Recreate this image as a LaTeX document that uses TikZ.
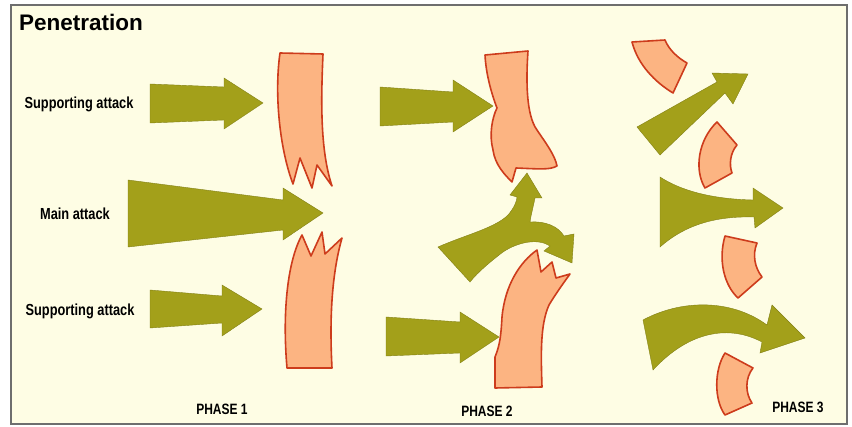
\documentclass[tikz,border=0pt]{standalone}
\usepackage{fontspec}
\setmainfont{Liberation Sans}
\newfontfamily\condfont[FakeStretch=0.8]{Liberation Sans}
\definecolor{cream}{RGB}{254,253,228}
\definecolor{olive}{RGB}{163,160,26}
\definecolor{salmon}{RGB}{252,180,130}
\definecolor{redline}{RGB}{205,60,28}
\definecolor{framegray}{RGB}{110,110,110}
\tikzset{
  attack/.style={fill=olive, draw=olive!80!black, line width=0.4pt},
  enemy/.style={fill=salmon, draw=redline, line width=1.6pt, line join=round},
  label/.style={font=\condfont\bfseries\fontsize{16}{18}\selectfont, inner sep=0pt},
  phase/.style={font=\condfont\bfseries\fontsize{15}{17}\selectfont, inner sep=0pt},
}
\begin{document}
\begin{tikzpicture}[x=1pt,y=-1pt]
\useasboundingbox (0,0) rectangle (852,427);
\fill[white] (0,0) rectangle (852,427);
\fill[cream] (11,5) rectangle (847,424);
\draw[framegray, line width=1.2pt] (11,5) rectangle (847,424);

% texts
\node[anchor=west, inner sep=0pt, font=\bfseries\fontsize{22.5}{24}\selectfont] (title) at (19,22) {Penetration};
\node[label] (sup1) at (79,104) {Supporting attack};
\node[label] (main) at (75,214) {Main attack};
\node[label] (sup2) at (80,311) {Supporting attack};
\node[phase] (ph1) at (222,409) {PHASE 1};
\node[phase] (ph2) at (487,411) {PHASE 2};
\node[phase] (ph3) at (798,407) {PHASE 3};

% ---------- Phase 1 ----------
\draw[attack] (150,84) -- (224,87) -- (224,78) -- (263,103) -- (224,129) -- (224,120) -- (150,123) -- cycle;
\draw[attack] (128,180) -- (283,200) -- (283,188) -- (323,213) -- (283,240) -- (283,230) -- (128,247) -- cycle;
\draw[attack] (150,290) -- (222,296) -- (222,285) -- (262,309) -- (222,336) -- (222,323) -- (150,328) -- cycle;

\draw[enemy] (280,53) -- (323,54) .. controls (321,100) and (320,150) .. (332,186)
  -- (317,165) -- (312,188) -- (300,158) -- (293,184)
  .. controls (280,150) and (274,95) .. (280,53) -- cycle;
\draw[enemy] (287,368) -- (332,368) .. controls (330,330) and (330,280) .. (342,238)
  -- (325,254) -- (322,232) -- (311,256) -- (302,235)
  .. controls (288,260) and (282,310) .. (287,368) -- cycle;

% ---------- Phase 2 ----------
\draw[attack] (380,87) -- (453,92) -- (453,80) -- (493,106) -- (453,132) -- (453,122) -- (380,126) -- cycle;
\draw[attack] (386,317) -- (460,322) -- (460,312) -- (499,337) -- (460,363) -- (460,353) -- (386,356) -- cycle;

\draw[enemy] (485,55) -- (528,51) .. controls (526,80) and (526,115) .. (537,130)
  .. controls (545,142) and (555,155) .. (557,166)
  .. controls (550,170) and (540,169) .. (516,168) -- (512,182)
  .. controls (505,175) and (495,165) .. (493,150)
  .. controls (489,135) and (492,118) .. (497,108)
  .. controls (492,95) and (486,75) .. (485,55) -- cycle;
\draw[enemy] (495,388) -- (542,387) .. controls (541,355) and (540,325) .. (549,305)
  .. controls (555,295) and (562,285) .. (570,274)
  -- (556,278) -- (552,262) -- (541,272) -- (537,250)
  .. controls (520,262) and (505,285) .. (502,317)
  .. controls (501,335) and (500,345) .. (495,357) -- cycle;

\draw[attack] (438,247) .. controls (465,235) and (495,228) .. (508,215)
  .. controls (514,208) and (517,201) .. (517,197) -- (510,195) -- (527,173) -- (542,198) -- (535,198)
  .. controls (533,208) and (531,215) .. (530,222)
  .. controls (545,221) and (558,226) .. (564,236) -- (574,234) -- (572,263) -- (544,251) -- (550,246)
  .. controls (538,238) and (518,242) .. (503,252)
  .. controls (490,262) and (478,272) .. (470,282) -- cycle;

% ---------- Phase 3 ----------
\draw[enemy] (632,42) -- (665,40) .. controls (669,50) and (678,58) .. (687,63) -- (673,93)
  .. controls (655,82) and (638,65) .. (632,42) -- cycle;
\draw[enemy] (717,122) -- (737,145) .. controls (730,153) and (729,165) .. (732,173) -- (705,188)
  .. controls (694,170) and (698,140) .. (717,122) -- cycle;
\draw[enemy] (725,236) -- (757,243) .. controls (752,255) and (755,268) .. (762,277) -- (738,298)
  .. controls (724,285) and (718,260) .. (725,236) -- cycle;
\draw[enemy] (725,353) -- (753,368) .. controls (745,378) and (745,393) .. (752,403) -- (725,415)
  .. controls (714,400) and (714,370) .. (725,353) -- cycle;

\draw[attack] (637,127) -- (717,82) -- (712,73) -- (748,74) -- (733,104) -- (725,93) -- (660,155) -- cycle;
\draw[attack] (660,177) .. controls (680,190) and (710,199) .. (753,200) -- (753,188) -- (783,208) -- (755,228) -- (754,217)
  .. controls (715,216) and (685,225) .. (660,247) -- cycle;
\draw[attack] (643,320) .. controls (680,300) and (730,298) .. (767,325) -- (772,305) -- (805,338) -- (760,353) -- (762,342)
  .. controls (730,325) and (690,330) .. (653,370) -- cycle;
\end{tikzpicture}
\end{document}
